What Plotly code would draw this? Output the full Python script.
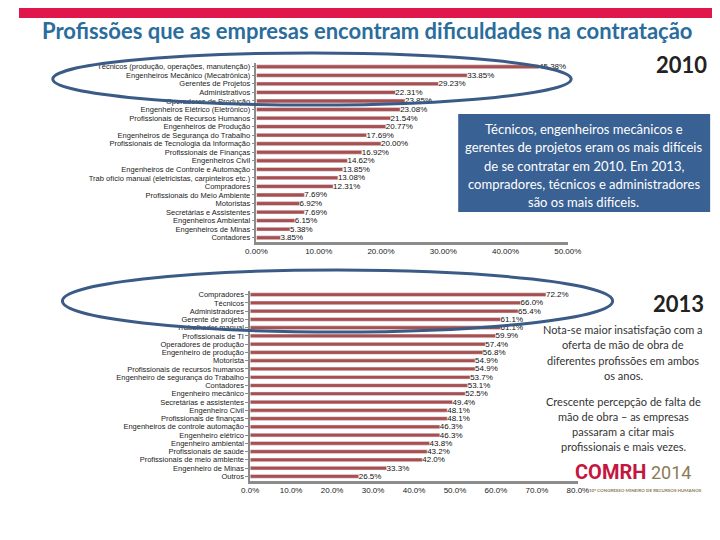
import plotly.graph_objects as go

# ---------------- data ----------------
cats_2010 = [
    "Técnicos (produção, operações, manutenção)",
    "Engenheiros Mecânico (Mecatrônica)",
    "Gerentes de Projetos",
    "Administrativos",
    "Operadores de Produção",
    "Engenheiros Elétrico (Eletrônico)",
    "Profissionais de Recursos Humanos",
    "Engenheiros de Produção",
    "Engenheiros de Segurança do Trabalho",
    "Profissionais de Tecnologia da Informação",
    "Profissionais de Finanças",
    "Engenheiros Civil",
    "Engenheiros de Controle e Automação",
    "Trab ofício manual (eletricistas, carpinteiros etc.)",
    "Compradores",
    "Profissionais do Meio Ambiente",
    "Motoristas",
    "Secretárias e Assistentes",
    "Engenheiros Ambiental",
    "Engenheiros de Minas",
    "Contadores",
]
vals_2010 = [45.38, 33.85, 29.23, 22.31, 23.85, 23.08, 21.54, 20.77, 17.69, 20.00,
             16.92, 14.62, 13.85, 13.08, 12.31, 7.69, 6.92, 7.69, 6.15, 5.38, 3.85]

cats_2013 = [
    "Compradores", "Técnicos", "Administradores", "Gerente de projeto",
    "Trabalhador manual", "Profissionais de TI", "Operadores de produção",
    "Engenheiro de produção", "Motorista", "Profissionais de recursos humanos",
    "Engenheiro de segurança do Trabalho", "Contadores", "Engenheiro mecânico",
    "Secretárias e assistentes", "Engenheiro Civil", "Profissionais de finanças",
    "Engenheiros de controle automação", "Engenheiro elétrico",
    "Engenheiro ambiental", "Profissionais de saúde",
    "Profissionais de meio ambiente", "Engenheiro de Minas", "Outros",
]
vals_2013 = [72.2, 66.0, 65.4, 61.1, 61.1, 59.9, 57.4, 56.8, 54.9, 54.9, 53.7, 53.1,
             52.5, 49.4, 48.1, 48.1, 46.3, 46.3, 43.8, 43.2, 42.0, 33.3, 26.5]

ticks_2010 = [0, 10, 20, 30, 40, 50]
ticks_2013 = [0, 10, 20, 30, 40, 50, 60, 70, 80]

W, H = 720, 540
def px(x): return x / W
def py(y): return 1 - y / H

BAR = "#A84F4F"
GRAY = "#8C8C8C"
NARROW = "Liberation Sans Narrow, Liberation Sans, Arial"
CATFONT = dict(size=7.5, color="#222", family="Liberation Sans, Arial")

fig = go.Figure()
fig.add_trace(go.Bar(
    y=cats_2010, x=vals_2010, orientation="h", marker_color=BAR,
    text=[f"{v:.2f}%" for v in vals_2010], textposition="outside",
    textfont=dict(size=8, color="#111", family=NARROW), constraintext="none",
    cliponaxis=False, xaxis="x", yaxis="y", showlegend=False,
))
fig.add_trace(go.Bar(
    y=cats_2013, x=vals_2013, orientation="h", marker_color=BAR,
    text=[f"{v:.1f}%" for v in vals_2013], textposition="outside",
    textfont=dict(size=8, color="#111", family=NARROW), constraintext="none",
    cliponaxis=False, xaxis="x2", yaxis="y2", showlegend=False,
))

axfont = dict(size=8, color="#222", family=NARROW)
fig.update_layout(
    width=W, height=H, margin=dict(l=0, r=0, t=0, b=0),
    paper_bgcolor="white", plot_bgcolor="white",
    bargap=0.55,
    xaxis=dict(domain=[px(246), px(568.5)], range=[0, 50], tickvals=ticks_2010,
               ticktext=[f"{t:.2f}%" for t in ticks_2010], tickfont=axfont,
               showgrid=False, zeroline=False, showline=True, linecolor=GRAY,
               linewidth=2.5, anchor="y", ticklen=0),
    yaxis=dict(domain=[py(234), py(54.5)], categoryorder="array",
               categoryarray=cats_2010, autorange="reversed", tickfont=CATFONT,
               tickmode="array", tickvals=cats_2010, ticktext=cats_2010,
               showgrid=False, showline=True, linecolor=GRAY, linewidth=1.5,
               ticks="outside", ticklen=3, tickcolor=GRAY, anchor="x"),
    xaxis2=dict(domain=[px(239.5), px(579)], range=[0, 80], tickvals=ticks_2013,
                ticktext=[f"{t:.1f}%" for t in ticks_2013], tickfont=axfont,
                showgrid=False, zeroline=False, showline=True, linecolor=GRAY,
                linewidth=3, anchor="y2", ticklen=0),
    yaxis2=dict(domain=[py(472.5), py(282.5)], categoryorder="array",
                categoryarray=cats_2013, autorange="reversed", tickfont=CATFONT,
                tickmode="array", tickvals=cats_2013, ticktext=cats_2013,
                showgrid=False, showline=True, linecolor=GRAY, linewidth=1.5,
                ticks="outside", ticklen=3, tickcolor=GRAY, anchor="x2"),
)

shapes = [
    # red band at top
    dict(type="rect", xref="paper", yref="paper", x0=0, x1=1, y0=py(10), y1=1,
         fillcolor="#E0174A", line_width=0, layer="below"),
    # ellipses
    dict(type="circle", xref="paper", yref="paper", x0=px(35), x1=px(572),
         y0=py(97), y1=py(45), line=dict(color="#3B5B87", width=3)),
    dict(type="circle", xref="paper", yref="paper", x0=px(45), x1=px(615),
         y0=py(324), y1=py(262), line=dict(color="#3B5B87", width=3)),
    # blue box
    dict(type="rect", xref="paper", yref="paper", x0=px(455), x1=px(716),
         y0=py(204), y1=py(106), fillcolor="#3A6193", line_width=0),
]
fig.update_layout(shapes=shapes)

ann = []
def add(text, x, y, size, color, bold=False, family="Lato", xanchor="center"):
    ann.append(dict(text=f"<b>{text}</b>" if bold else text, x=px(x), y=py(y),
                    xref="paper", yref="paper", showarrow=False,
                    font=dict(size=size, color=color, family=family),
                    xanchor=xanchor, yanchor="middle"))

add("Profissões que as empresas encontram dificuldades na contratação",
    361, 22, 22, "#2A6D9C", bold=True)
add("2010", 686, 57, 22, "#222", bold=True)
add("2013", 683, 295, 22, "#222", bold=True)

box_lines = ["Técnicos, engenheiros mecânicos e",
             "gerentes de projetos eram os mais difíceis",
             "de se contratar em 2010. Em 2013,",
             "compradores, técnicos e administradores",
             "são os mais difíceis."]
for i, t in enumerate(box_lines):
    add(t, 585, 121 + i * 18.3, 13, "white")

note1 = ["Nota-se maior insatisfação com a", "oferta de mão de obra de",
         "diferentes profissões em ambos", "os anos."]
for i, t in enumerate(note1):
    add(t, 626, 321 + i * 15.5, 11, "#333")
note2 = ["Crescente percepção de falta de", "mão de obra – as empresas",
         "passaram a citar mais", "profissionais e mais vezes."]
for i, t in enumerate(note2):
    add(t, 626, 393 + i * 15, 11, "#333")

# logo
add("COMRH", 652, 464, 20, "#C4173F", bold=True, family="Roboto", xanchor="right")
add("2014", 653, 464, 18, "#8B7B55", family="Roboto", xanchor="left")
add("10º CONGRESSO MINEIRO DE RECURSOS HUMANOS", 649, 482, 4.5, "#8B7B55", bold=True)

fig.update_layout(annotations=ann)
fig.write_html("out.html")
